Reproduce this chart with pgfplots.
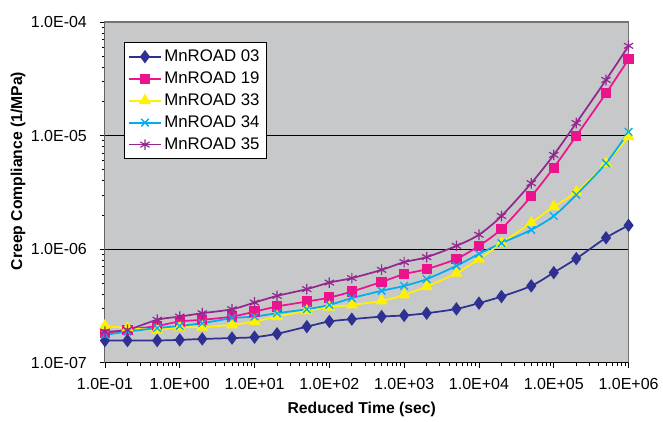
\documentclass[border=0pt]{standalone}
\usepackage{fontspec}
\setmainfont{Liberation Sans}
\usepackage{pgfplots}
\pgfplotsset{compat=1.18}
\usetikzlibrary{calc}
\definecolor{cBlue}{HTML}{2E3192}
\definecolor{cPink}{HTML}{EC148C}
\definecolor{cYellow}{HTML}{FFF200}
\definecolor{cCyan}{HTML}{00AEEF}
\definecolor{cPurple}{HTML}{92278F}
\definecolor{plotBg}{HTML}{C7C8CA}

\begin{document}
\begin{tikzpicture}
\begin{axis}[
  name=ax,
  xmode=log, ymode=log,
  width=393pt, height=255.75pt, scale only axis,
  xmin=0.1, xmax=1e6, ymin=1e-7, ymax=1e-4,
  axis background/.style={fill=plotBg},
  axis line style={black!55,line width=0.8pt},
  tick pos=left, tick align=outside,
  major tick length=4pt, minor tick length=2.5pt,
  every tick/.style={black,line width=0.6pt},
  xtick={0.1,1,10,100,1000,10000,100000,1000000},
  xticklabels={1.0E-01,1.0E+00,1.0E+01,1.0E+02,1.0E+03,1.0E+04,1.0E+05,1.0E+06},
  ytick={1e-7,1e-6,1e-5,1e-4},
  yticklabels={1.0E-07,1.0E-06,1.0E-05,1.0E-04},
  ymajorgrids, major grid style={black,line width=0.7pt},
  tick label style={font=\fontsize{12}{14}\selectfont},
  xticklabel style={yshift=-4.5pt},
  yticklabel style={xshift=-6pt},
  xlabel={Reduced Time (sec)},
  ylabel={Creep Compliance (1/MPa)},
  label style={font=\fontsize{11.8}{13}\selectfont\bfseries},
  xlabel style={at={(rel axis cs:0.4905,-0.138)},anchor=center},
  ylabel style={at={(rel axis cs:-0.166,0.563)},anchor=center},
  legend style={at={(rel axis cs:0.036,0.941)},anchor=north west,
    draw=black,fill=white,line width=0.6pt,
    font=\fontsize{12.6}{15}\selectfont,
    row sep=2.2pt, inner xsep=3pt, inner ysep=3.5pt},
  legend cell align=left,
  legend image code/.code={
    \draw[mark repeat=2,mark phase=2] plot coordinates {(0cm,0cm) (0.42cm,0cm) (0.84cm,0cm)};},
  every axis plot/.append style={line width=1.3pt, smooth},
]
\addplot[cBlue, mark=diamond*, mark size=4pt, mark options={fill=cBlue}] coordinates {
(0.1,1.57e-7)(0.2,1.57e-7)(0.5,1.57e-7)(1,1.59e-7)(2,1.62e-7)(5,1.65e-7)(10,1.68e-7)
(20,1.80e-7)(50,2.08e-7)(100,2.31e-7)(200,2.42e-7)(500,2.55e-7)(1000,2.61e-7)
(2000,2.73e-7)(5000,2.98e-7)(1e4,3.35e-7)(2e4,3.83e-7)(5e4,4.75e-7)(1e5,6.22e-7)
(2e5,8.26e-7)(5e5,1.26e-6)(1e6,1.62e-6)};
\addplot[cPink, mark=square*, mark size=3.2pt, mark options={fill=cPink}] coordinates {
(0.1,1.82e-7)(0.2,1.95e-7)(0.5,2.11e-7)(1,2.31e-7)(2,2.39e-7)(5,2.55e-7)(10,2.82e-7)
(20,3.13e-7)(50,3.46e-7)(100,3.75e-7)(200,4.24e-7)(500,5.15e-7)(1000,6.03e-7)
(2000,6.67e-7)(5000,8.22e-7)(1e4,1.07e-6)(2e4,1.51e-6)(5e4,2.92e-6)(1e5,5.22e-6)
(2e5,9.93e-6)(5e5,2.36e-5)(1e6,4.70e-5)};
\addplot[cYellow, mark=triangle*, mark size=4pt, mark options={fill=cYellow}] coordinates {
(0.1,2.11e-7)(0.2,2.02e-7)(0.5,1.95e-7)(1,2.06e-7)(2,2.06e-7)(5,2.16e-7)(10,2.31e-7)
(20,2.55e-7)(50,2.86e-7)(100,3.09e-7)(200,3.23e-7)(500,3.51e-7)(1000,3.96e-7)
(2000,4.69e-7)(5000,6.15e-7)(1e4,8.16e-7)(2e4,1.13e-6)(5e4,1.71e-6)(1e5,2.37e-6)
(2e5,3.19e-6)(5e5,5.71e-6)(1e6,9.80e-6)};
\addplot[cCyan, mark=x, mark size=4pt, mark options={line width=1pt}] coordinates {
(0.1,1.76e-7)(0.2,1.88e-7)(0.5,2.02e-7)(1,2.11e-7)(2,2.23e-7)(5,2.47e-7)(10,2.55e-7)
(20,2.73e-7)(50,2.96e-7)(100,3.23e-7)(200,3.71e-7)(500,4.30e-7)(1000,4.75e-7)
(2000,5.45e-7)(5000,7.13e-7)(1e4,9.09e-7)(2e4,1.13e-6)(5e4,1.48e-6)(1e5,1.96e-6)
(2e5,3.01e-6)(5e5,5.71e-6)(1e6,1.08e-5)};
\addplot[cPurple, mark=asterisk, mark size=4pt, mark options={line width=0.9pt}] coordinates {
(0.1,1.88e-7)(0.2,1.95e-7)(0.5,2.39e-7)(1,2.55e-7)(2,2.73e-7)(5,2.96e-7)(10,3.39e-7)
(20,3.88e-7)(50,4.45e-7)(100,5.08e-7)(200,5.56e-7)(500,6.58e-7)(1000,7.69e-7)
(2000,8.51e-7)(5000,1.07e-6)(1e4,1.34e-6)(2e4,1.96e-6)(5e4,3.81e-6)(1e5,6.76e-6)
(2e5,1.29e-5)(5e5,3.09e-5)(1e6,6.17e-5)};
\legend{MnROAD 03,MnROAD 19,MnROAD 33,MnROAD 34,MnROAD 35}
\draw[black,line width=0.8pt] (rel axis cs:0,1) -- (rel axis cs:0,0) -- (rel axis cs:1,0);
\end{axis}
\path ($(ax.south west)+(-78.75pt,-43.5pt)$) rectangle ($(ax.north east)+(25.5pt,16.5pt)$);
\end{tikzpicture}
\end{document}
